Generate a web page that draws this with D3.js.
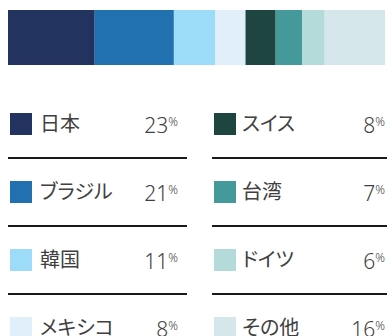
<!DOCTYPE html>
<html>
<head>
<meta charset="utf-8">
<script src="https://cdn.jsdelivr.net/npm/d3@7"></script>
<style>
  html, body { margin: 0; padding: 0; background: #fff; overflow: hidden; }
  svg { display: block; }
  text { fill: #404040; }
  .lbl { font-family: "Noto Sans CJK JP", sans-serif; font-feature-settings: "palt"; font-weight: 400; }
  .val { font-family: "Noto Sans", "Open Sans", sans-serif; font-weight: 300; }
</style>
</head>
<body>
<svg id="chart" width="387" height="336"></svg>
<script>
// Share by country
const countries = ["日本", "ブラジル", "韓国", "メキシコ", "スイス", "台湾", "ドイツ", "その他"];
const shares = [23, 21, 11, 8, 8, 7, 6, 16];
const colors = ["#22335f", "#2170b0", "#9ddcf8", "#e1effa", "#1f4540", "#44999a", "#b4dada", "#d5e7ea"];

const svg = d3.select("#chart");

const data = countries.map((c, i) => ({ name: c, value: shares[i], color: colors[i] }));
let acc = 0;
data.forEach(d => { d.start = acc; acc += d.value; d.end = acc; });

// Stacked 100% bar
const x = d3.scaleLinear().domain([0, d3.sum(shares)]).range([8, 385]);
svg.append("g").selectAll("rect")
  .data(data)
  .join("rect")
  .attr("x", d => x(d.start))
  .attr("y", 10)
  .attr("width", d => x(d.end) - x(d.start))
  .attr("height", 55)
  .attr("fill", d => d.color);

// Legend: two columns of four rows
const rowY = d3.scalePoint().domain(d3.range(4)).range([124, 328]);
const cols = [
  { left: 8, right: 187, sq: 10, label: 40, val: 178 },
  { left: 212, right: 387, sq: 214, label: 242, val: 385 }
];

const items = svg.append("g").selectAll("g")
  .data(data)
  .join("g")
  .attr("transform", (d, i) => `translate(0,${rowY(i % 4)})`);

items.append("rect")
  .attr("x", (d, i) => cols[Math.floor(i / 4)].sq)
  .attr("y", -11)
  .attr("width", 22)
  .attr("height", 22)
  .attr("fill", d => d.color);

items.append("text")
  .attr("class", "lbl")
  .attr("x", (d, i) => cols[Math.floor(i / 4)].label)
  .attr("y", 7)
  .attr("font-size", 20)
  .text(d => d.name);

const val = items.append("text")
  .attr("class", "val")
  .attr("x", (d, i) => cols[Math.floor(i / 4)].val)
  .attr("y", 9)
  .attr("text-anchor", "end")
  .attr("font-size", 21);
val.append("tspan").text(d => d.value);
val.append("tspan").attr("font-size", 12).attr("dy", -7).text("%");

// Separator lines between rows
const sepY = [0, 1, 2].map(k => (rowY(k) + rowY(k + 1)) / 2);
cols.forEach(c => {
  svg.append("g").selectAll("line")
    .data(sepY)
    .join("line")
    .attr("x1", c.left)
    .attr("x2", c.right)
    .attr("y1", d => d)
    .attr("y2", d => d)
    .attr("stroke", "#1a1a1a")
    .attr("stroke-width", 1.8);
});
</script>
</body>
</html>
